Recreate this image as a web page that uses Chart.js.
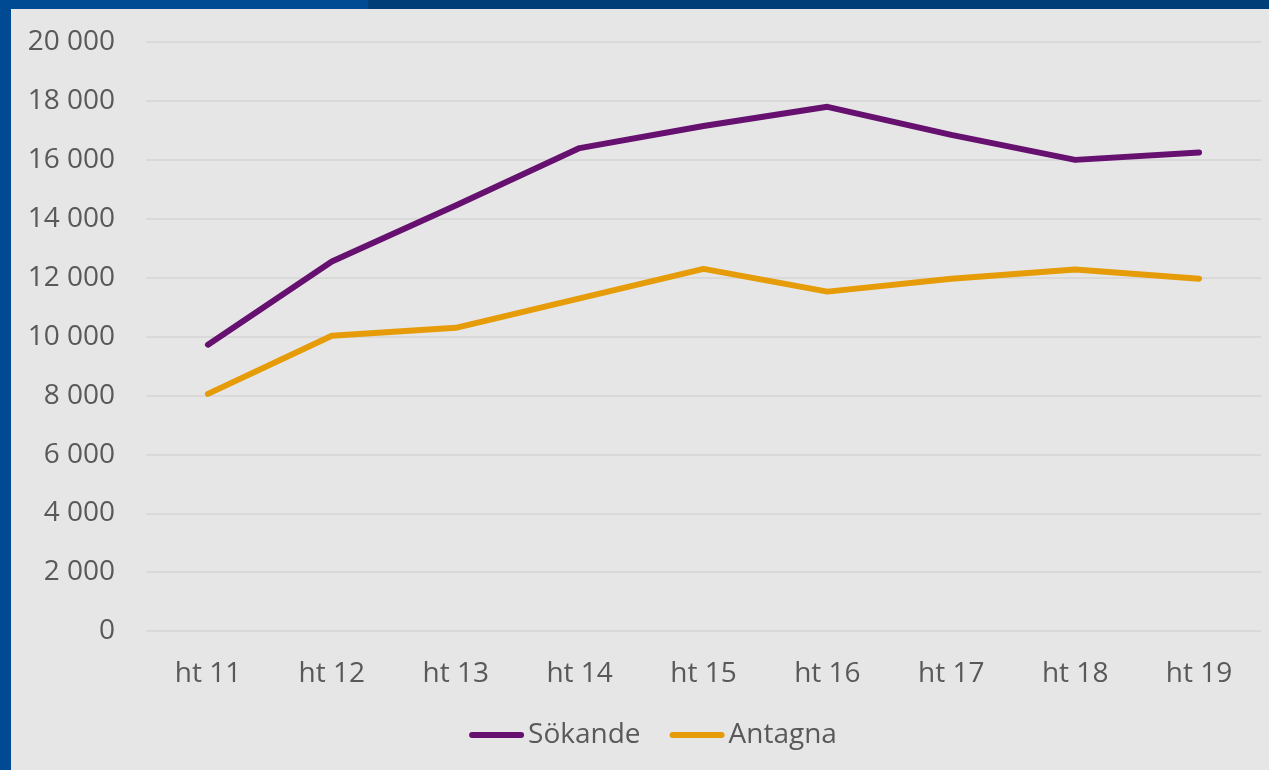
<!DOCTYPE html>
<html>
<head>
<meta charset="utf-8">
<script src="https://cdn.jsdelivr.net/npm/chart.js@4"></script>
<style>
    html, body { margin: 0; padding: 0; }
    body { width: 1269px; height: 770px; position: relative; overflow: hidden; background: #e6e6e6; }
    #topLeft { position: absolute; left: 0; top: 0; width: 368px; height: 9px; background: #004a94; }
    #topRight { position: absolute; left: 368px; top: 0; width: 901px; height: 9px; background: #003e78; }
    #leftBar { position: absolute; left: 0; top: 0; width: 11px; height: 770px; background: #004a94; }
    #wrap { position: absolute; left: 11px; top: 9px; width: 1258px; height: 761px; }
</style>
</head>
<body>
<div id="topLeft"></div>
<div id="topRight"></div>
<div id="leftBar"></div>
<div id="wrap"><canvas id="lineChart"></canvas></div>
<script>
const categories = ['ht 11', 'ht 12', 'ht 13', 'ht 14', 'ht 15', 'ht 16', 'ht 17', 'ht 18', 'ht 19'];
const sokande = [9730, 12550, 14450, 16400, 17150, 17800, 16850, 16000, 16250];
const antagna = [8060, 10030, 10300, 11300, 12300, 11530, 11970, 12280, 11970];

const textColor = '#595959';
const fontFamily = '"Open Sans", sans-serif';

// legend drawn by hand: short gap between line and text like the original
const legendPlugin = {
    id: 'tightLegend',
    afterDraw: function(chart) {
        const c = chart.ctx;
        const lineLen = 55, gap = 4, itemGap = 29;
        c.save();
        c.font = '28px ' + fontFamily;
        const items = chart.data.datasets.map(function(ds) {
            return { ds: ds, w: c.measureText(ds.label).width };
        });
        let total = 0;
        items.forEach(function(it, i) {
            total += lineLen + gap + it.w + (i > 0 ? itemGap : 0);
        });
        let x = chart.width / 2 + 13 - total / 2;
        const y = chart.height - 35;
        items.forEach(function(it) {
            c.strokeStyle = it.ds.borderColor;
            c.lineWidth = 6;
            c.lineCap = 'round';
            c.beginPath();
            c.moveTo(x + 3, y);
            c.lineTo(x + lineLen - 3, y);
            c.stroke();
            c.fillStyle = textColor;
            c.textBaseline = 'middle';
            c.fillText(it.ds.label, x + lineLen + gap, y);
            x += lineLen + gap + it.w + itemGap;
        });
        c.restore();
    }
};

document.addEventListener('DOMContentLoaded', function() {
    const ctx = document.getElementById('lineChart').getContext('2d');

    new Chart(ctx, {
        type: 'line',
        data: {
            labels: categories,
            datasets: [{
                label: 'Sökande',
                data: sokande,
                borderColor: '#661070',
                backgroundColor: '#661070',
                borderWidth: 6,
                borderCapStyle: 'round',
                borderJoinStyle: 'round',
                pointRadius: 0,
                tension: 0
            }, {
                label: 'Antagna',
                data: antagna,
                borderColor: '#e59c08',
                backgroundColor: '#e59c08',
                borderWidth: 6,
                borderCapStyle: 'round',
                borderJoinStyle: 'round',
                pointRadius: 0,
                tension: 0
            }]
        },
        options: {
            responsive: true,
            maintainAspectRatio: false,
            animation: false,
            layout: {
                padding: { left: 0, right: 8, top: 33, bottom: 61 }
            },
            plugins: {
                legend: { display: false },
                tooltip: { enabled: false }
            },
            scales: {
                y: {
                    min: 0,
                    max: 20000,
                    border: { display: false },
                    grid: {
                        color: '#d9d9d9',
                        lineWidth: 2,
                        drawTicks: false
                    },
                    afterFit: function(scale) {
                        scale.width = 135; // axis ends where the gridlines start
                        scale.paddingTop = 0;
                        scale.paddingBottom = 0;
                    },
                    ticks: {
                        stepSize: 2000,
                        padding: 31,
                        color: textColor,
                        font: { family: fontFamily, size: 28 },
                        callback: function(value) {
                            return value.toLocaleString('en-US').replace(/,/g, ' ');
                        }
                    }
                },
                x: {
                    offset: true,
                    border: { display: false },
                    grid: { display: false },
                    ticks: {
                        padding: 18,
                        maxRotation: 0,
                        color: textColor,
                        font: { family: fontFamily, size: 28 }
                    }
                }
            }
        },
        plugins: [legendPlugin]
    });
});
</script>
</body>
</html>
